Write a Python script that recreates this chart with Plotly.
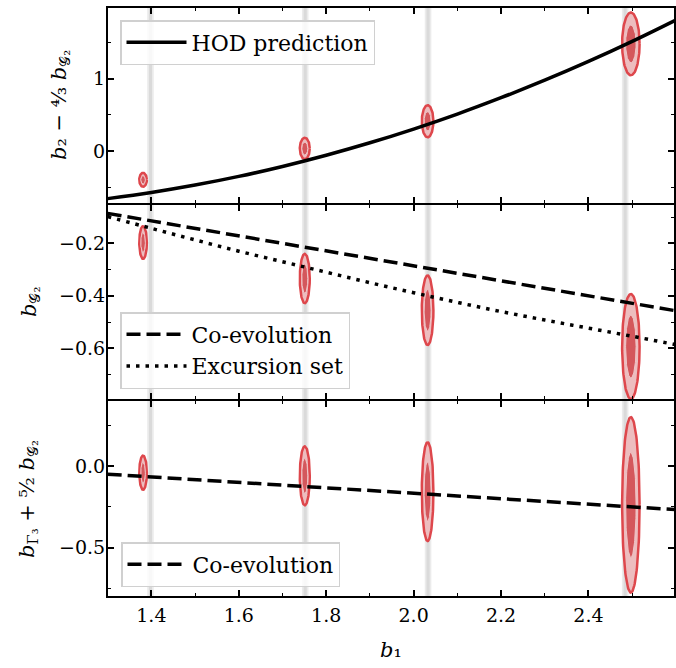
import numpy as np
import plotly.graph_objects as go
from plotly.subplots import make_subplots

# ---- model predictions on a b1 grid ----
b1_grid = [1.3, 1.4, 1.5, 1.6, 1.7, 1.8, 1.9, 2.0, 2.1, 2.2, 2.3, 2.4, 2.5, 2.6]
hod_pred = [-0.66, -0.575, -0.473, -0.353, -0.215, -0.06, 0.112, 0.302,
            0.509, 0.735, 0.977, 1.237, 1.515, 1.81]
excursion_set = [-0.098, -0.143, -0.187, -0.23, -0.27, -0.31, -0.35, -0.388,
                 -0.425, -0.46, -0.492, -0.523, -0.554, -0.586]

coevo_b1 = [1.3, 2.6]
coevo_bg2 = [-0.086, -0.457]
coevo_comb = [-0.05, -0.267]

# ---- measured b1 of each sample (central value, 1 and 2 sigma) ----
band_center = [1.398, 1.752, 2.033, 2.484]
band_sig1 = [0.0035, 0.0035, 0.0035, 0.0035]
band_sig2 = [0.0075, 0.0075, 0.0075, 0.0075]

# ---- fitted posteriors: centres and 2-sigma half-widths ----
fit_b1 = [1.381, 1.751, 2.032, 2.497]
fit_b1_half = [0.0087, 0.0114, 0.0133, 0.020]

top_center = [-0.40, 0.033, 0.41, 1.48]
top_half = [0.096, 0.148, 0.222, 0.434]
mid_center = [-0.197, -0.334, -0.455, -0.593]
mid_half = [0.0625, 0.094, 0.1326, 0.20]
bot_center = [-0.041, -0.06, -0.157, -0.238]
bot_half = [0.105, 0.181, 0.303, 0.538]

inner_ratio = 0.6

SERIF = "DejaVu Serif"
OUTER_FILL = "#edbdbf"
OUTER_LINE = "#de474c"
INNER_FILL = "#d4575c"
INNER_LINE = "#f0c6c8"

fig = make_subplots(rows=3, cols=1, shared_xaxes=True, vertical_spacing=0)


def ellipse(cx, cy, a, b, n=120):
    t = np.linspace(0, 2 * np.pi, n)
    return cx + a * np.cos(t), cy + b * np.sin(t)


def add_contours(row, centers, halves):
    for cx, ax_, cy, by in zip(fit_b1, fit_b1_half, centers, halves):
        x, y = ellipse(cx, cy, ax_, by)
        fig.add_trace(go.Scatter(x=x, y=y, mode="lines", fill="toself",
                                 fillcolor=OUTER_FILL,
                                 line=dict(color=OUTER_LINE, width=2.5),
                                 showlegend=False, hoverinfo="skip"),
                      row=row, col=1)
        x, y = ellipse(cx, cy, ax_ * inner_ratio, by * inner_ratio)
        fig.add_trace(go.Scatter(x=x, y=y, mode="lines", fill="toself",
                                 fillcolor=INNER_FILL,
                                 line=dict(color=INNER_LINE, width=1),
                                 showlegend=False, hoverinfo="skip"),
                      row=row, col=1)


add_contours(1, top_center, top_half)
add_contours(2, mid_center, mid_half)
add_contours(3, bot_center, bot_half)

# vertical bands: measured b1 with its uncertainty
for c, s1, s2 in zip(band_center, band_sig1, band_sig2):
    for s in (s2, s1):
        fig.add_shape(type="rect", xref="x", yref="paper", x0=c - s, x1=c + s,
                      y0=0, y1=1, fillcolor="rgba(128,128,128,0.16)",
                      line_width=0, layer="below")

# outer frame around the stacked panels
fig.add_shape(type="rect", xref="paper", yref="paper", x0=0, x1=1, y0=0, y1=1,
              line=dict(color="black", width=2), fillcolor="rgba(0,0,0,0)",
              layer="above")

# model lines
fig.add_trace(go.Scatter(x=b1_grid, y=hod_pred, mode="lines", line_shape="spline",
                         line=dict(color="black", width=3.5),
                         name="HOD prediction", legend="legend"), row=1, col=1)
fig.add_trace(go.Scatter(x=coevo_b1, y=coevo_bg2, mode="lines",
                         line=dict(color="black", width=3.5, dash="14px,6px"),
                         name="Co-evolution", legend="legend2"), row=2, col=1)
fig.add_trace(go.Scatter(x=b1_grid, y=excursion_set, mode="lines", line_shape="spline",
                         line=dict(color="black", width=3.5, dash="3.5px,6px"),
                         name="Excursion set", legend="legend2"), row=2, col=1)
fig.add_trace(go.Scatter(x=coevo_b1, y=coevo_comb, mode="lines",
                         line=dict(color="black", width=3.5, dash="14px,6px"),
                         name="Co-evolution", legend="legend3"), row=3, col=1)

axis_common = dict(showline=True, linewidth=1, linecolor="black", mirror="allticks",
                   ticks="inside", ticklen=7, tickwidth=1.6, tickcolor="black",
                   showgrid=False, zeroline=False,
                   tickfont=dict(family=SERIF, size=19, color="black"))

for r in (1, 2, 3):
    fig.update_xaxes(range=[1.2985, 2.598], dtick=0.2, tick0=0, tickformat=".1f",
                     minor=dict(ticks="inside", ticklen=4, tickwidth=1.3,
                                tickcolor="black", dtick=0.1, tick0=0),
                     ticklabelstandoff=1, **axis_common, row=r, col=1)

fig.update_yaxes(range=[-0.73, 1.99], dtick=1, tick0=0,
                 minor=dict(ticks="inside", ticklen=4, tickwidth=1.3,
                            tickcolor="black", dtick=0.5, tick0=0),
                 ticklabelstandoff=-3, **axis_common, row=1, col=1)
fig.update_yaxes(range=[-0.798, -0.049], dtick=0.2, tick0=0, tickformat=".1f",
                 minor=dict(ticks="inside", ticklen=4, tickwidth=1.3,
                            tickcolor="black", dtick=0.1, tick0=0),
                 ticklabelstandoff=-3, **axis_common, row=2, col=1)
fig.update_yaxes(range=[-0.803, 0.403], dtick=0.5, tick0=0, tickformat=".1f",
                 minor=dict(ticks="inside", ticklen=4, tickwidth=1.3,
                            tickcolor="black", dtick=0.25, tick0=0),
                 ticklabelstandoff=-3, **axis_common, row=3, col=1)

legend_style = dict(xanchor="left", yanchor="top",
                    bgcolor="rgba(255,255,255,0.8)", bordercolor="#d0d0d0",
                    borderwidth=1.5, font=dict(family=SERIF, size=22, color="black"),
                    itemwidth=60, tracegroupgap=0)

W, H = 676, 668
L, R, T, B = 107, 1, 7, 71
pw, ph = W - L - R, H - T - B


def px(xp):
    return (xp - L) / pw


def py(yp):
    return (H - B - yp) / ph


title_font = dict(family=SERIF, size=21, color="black")
annotations = [
    dict(text="<i>b</i>₂ − ⁴⁄₃ <i>b</i><sub>𝒢₂</sub>", x=px(60), y=py(105),
         textangle=-90),
    dict(text="<i>b</i><sub>𝒢₂</sub>", x=px(30), y=py(302), textangle=-90),
    dict(text="<i>b</i><sub>Γ₃</sub> + ⁵⁄₂ <i>b</i><sub>𝒢₂</sub>", x=px(28), y=py(499),
         textangle=-90),
    dict(text="<i>b</i>₁", x=px(391), y=py(650), textangle=0),
]
for a in annotations:
    a.update(xref="paper", yref="paper", showarrow=False, font=title_font,
             xanchor="center", yanchor="middle")

fig.update_layout(
    width=W, height=H,
    margin=dict(l=L, r=R, t=T, b=B),
    plot_bgcolor="white", paper_bgcolor="white",
    font=dict(family=SERIF, color="black"),
    showlegend=True,
    legend=dict(x=px(120), y=py(20), **legend_style),
    legend2=dict(x=px(120), y=py(312), **legend_style),
    legend3=dict(x=px(121), y=py(542), **legend_style),
    annotations=annotations,
)

fig.write_html("out.html")
